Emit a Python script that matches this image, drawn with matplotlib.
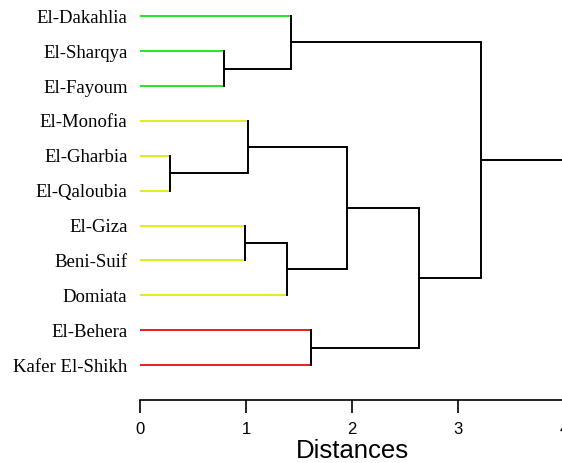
import matplotlib.pyplot as plt

# leaves, top to bottom
labels = ['El-Dakahlia', 'El-Sharqya', 'El-Fayoum', 'El-Monofia', 'El-Gharbia',
          'El-Qaloubia', 'El-Giza', 'Beni-Suif', 'Domiata', 'El-Behera', 'Kafer El-Shikh']
leaf_colors = ['#22e622'] * 3 + ['#e2ec1c'] * 6 + ['#ee1c1c'] * 2

# merges (scipy-style ids: leaves 0..10, new clusters from 11)
merge_a = [1, 4, 6, 3, 13, 0, 9, 14, 18, 16]
merge_b = [2, 5, 7, 12, 8, 11, 10, 15, 17, 19]
merge_h = [0.79, 0.28, 0.99, 1.02, 1.39, 1.42, 1.61, 1.95, 2.63, 3.22]

xmax = 4.0
ticks = [0, 1, 2, 3, 4]

fig = plt.figure(figsize=(5.62, 4.63), dpi=100)
ax = fig.add_axes([140 / 562, 63 / 463, 424 / 562, 400 / 463])

pos = {i: (0.0, float(i)) for i in range(len(labels))}
lw = 1.4
for k, (a, b, h) in enumerate(zip(merge_a, merge_b, merge_h)):
    for c in (a, b):
        cx, cy = pos[c]
        col = leaf_colors[c] if c < len(labels) else 'black'
        ax.plot([cx, h], [cy, cy], color=col, lw=lw, solid_capstyle='butt')
    ya, yb = pos[a][1], pos[b][1]
    ax.plot([h, h], [ya, yb], color='black', lw=lw, solid_capstyle='projecting')
    pos[len(labels) + k] = (h, (ya + yb) / 2)

# root stub
rx, ry = pos[len(labels) + len(merge_h) - 1]
ax.plot([rx, xmax], [ry, ry], color='black', lw=lw, clip_on=False)

ax.set_xlim(0, xmax)
ax.set_ylim(11.0, -0.467)
for s in ('top', 'right', 'left'):
    ax.spines[s].set_visible(False)
ax.spines['bottom'].set_linewidth(1.2)

ax.set_xticks(ticks)
ax.set_xticklabels([str(t) for t in ticks], fontfamily='Liberation Sans', fontsize=12)
ax.tick_params(axis='x', direction='out', length=9.5, width=1.2, pad=6)

ax.set_yticks(range(len(labels)))
ax.set_yticklabels(labels, fontfamily='Liberation Serif', fontsize=13.5)
ax.tick_params(axis='y', length=0, pad=9)

ax.set_xlabel('Distances', fontfamily='Liberation Sans', fontsize=18.5, labelpad=0)
ax.xaxis.set_label_coords((352 - 140) / 424, -0.098)

fig.savefig('out.png', dpi=100)
